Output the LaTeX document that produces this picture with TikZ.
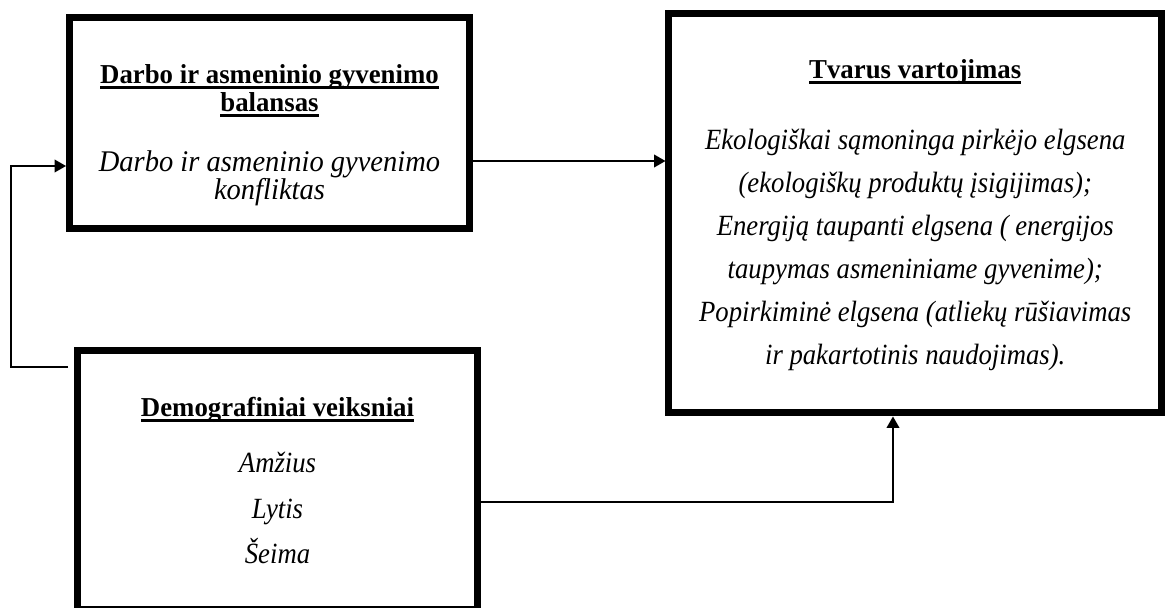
\documentclass[tikz,border=0pt]{standalone}
\usepackage{fontspec}
\setmainfont{Liberation Serif}
\newfontfamily\hdfont{Liberation Serif}[FakeStretch=0.98]
\newfontfamily\itfont{Liberation Serif}[FakeStretch=0.91]
\newfontfamily\itbfont{Liberation Serif}[FakeStretch=0.95]
\usetikzlibrary{arrows.meta}
\newsavebox\ulbox
\newcommand{\myul}[1]{\sbox\ulbox{#1}\rlap{\rule[-4.3pt]{\wd\ulbox}{1.8pt}}\usebox\ulbox}
\begin{document}
\begin{tikzpicture}[x=0.75pt,y=-0.75pt,
  box/.style={draw, line width=5.25pt, rectangle, inner sep=0pt},
  hd/.style={anchor=base, inner sep=0pt, font=\hdfont\fontsize{20.5}{22}\selectfont\bfseries},
  it/.style={anchor=base, inner sep=0pt, font=\itfont\fontsize{22}{22}\selectfont\itshape},
  itb/.style={anchor=base, inner sep=0pt, font=\itbfont\fontsize{22.5}{22}\selectfont\itshape},
  arr/.style={line width=1pt, -{Triangle[length=8.5pt,width=9.5pt]}}]
\useasboundingbox (0,0) rectangle (1167,607);
\clip (0,0) rectangle (1167,607);
% boxes
\node[box, minimum width=300pt, minimum height=158.25pt] (b1) at (269.5,123) {};
\node[box, minimum width=369.4pt, minimum height=299.6pt] (b2) at (915.25,213.25) {};
\node[box, minimum width=300pt, minimum height=194.6pt] (b3) at (277.5,480.25) {};
% box 1 text
\node[hd] (t11) at (269.5,83) {\myul{Darbo ir asmeninio gyvenimo}};
\node[hd] (t12) at (269.5,111) {\myul{balansas}};
\node[itb] (t13) at (269.5,171) {Darbo ir asmeninio gyvenimo};
\node[itb] (t14) at (269.5,199) {konfliktas};
% box 2 text
\node[hd] (t21) at (915.25,78) {\myul{Tvarus vartojimas}};
\node[it] (t22) at (915.25,149) {Ekologiškai sąmoninga pirkėjo elgsena};
\node[it] (t23) at (915.25,192) {(ekologiškų produktų įsigijimas);};
\node[it] (t24) at (915.25,235) {Energiją taupanti elgsena ( energijos};
\node[it] (t25) at (915.25,278) {taupymas asmeniniame gyvenime);};
\node[it] (t26) at (915.25,321) {Popirkiminė elgsena (atliekų rūšiavimas};
\node[it] (t27) at (915.25,364) {ir pakartotinis naudojimas).};
% box 3 text
\node[hd] (t31) at (277.5,416) {\myul{Demografiniai veiksniai}};
\node[it] (t32) at (277.5,472) {Amžius};
\node[it] (t33) at (277.5,518) {Lytis};
\node[it] (t34) at (277.5,563) {Šeima};
% connectors
\coordinate (a1) at ([yshift=-28.5pt]b1.east);
\draw[arr] (a1) -- (a1 -| b2.west);
\coordinate (c3) at ([yshift=84.9pt,xshift=-4.5pt]b3.west);
\coordinate (b1in) at ([yshift=-32.25pt]b1.west);
\draw[arr] (c3) -- ++(-57,0) |- (b1in);
\coordinate (c4) at ([yshift=-16.3pt]b3.east);
\coordinate (c5) at ([xshift=-16.7pt]b2.south);
\draw[arr] (c4) -| (c5);
\end{tikzpicture}
\end{document}
